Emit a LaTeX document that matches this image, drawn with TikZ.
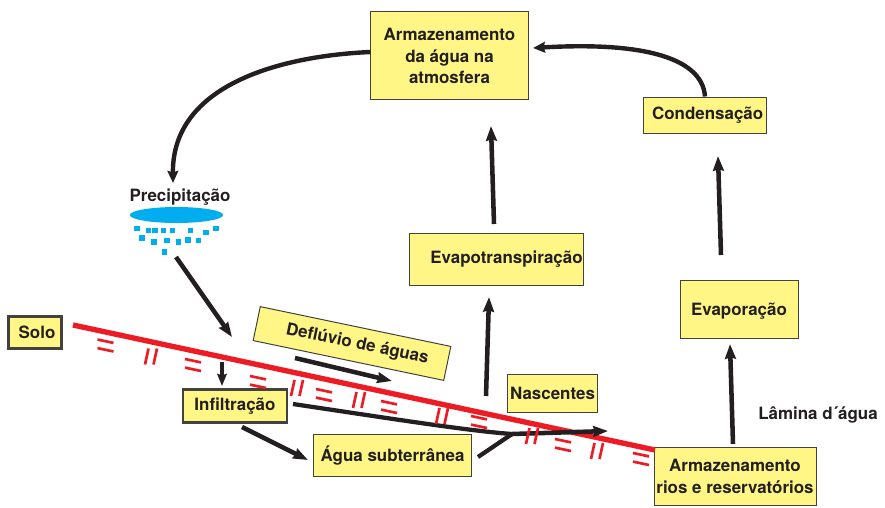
\documentclass[tikz,border=0pt]{standalone}
\usepackage{fontspec}
\setmainfont{TeX Gyre Heros}
\usetikzlibrary{arrows.meta,calc,shapes.geometric}
\definecolor{boxy}{HTML}{FFF685}
\definecolor{ink}{HTML}{231F20}
\definecolor{redl}{HTML}{ED1C24}
\definecolor{cyanb}{HTML}{00AEEF}
\tikzset{
  x=0.75pt,y=-0.75pt,
  txt/.style={font=\bfseries\fontsize{12.7}{16}\selectfont,text=ink,align=center,inner sep=0pt},
  box/.style={txt,draw=ink!85,line width=0.75pt,fill=boxy,inner sep=0pt},
  heavybox/.style={box,line width=2.2pt},
  arr/.style={draw=ink,line width=3.4pt,-{Stealth[length=11pt,width=8pt,inset=1pt]}},
  arrthin/.style={draw=ink,line width=2.6pt,-{Stealth[length=9pt,width=7pt,inset=1pt]}},
  arrhead/.style={draw=ink,line width=3.3pt,-{Stealth[length=9pt,width=8pt,inset=1pt]}},
  seg/.style={draw=redl,line width=2pt},
  soil/.style={draw=redl,line width=4pt},
  drop/.style={fill=cyanb,draw=none},
}
\newcommand{\eqmark}[2]{\draw[seg] (#1-8,#2-6) -- (#1+8,#2-2.6) (#1-8,#2+2.6) -- (#1+8,#2+6);}
\newcommand{\parmark}[2]{\draw[seg] (#1-2.5,#2-8) -- (#1-6,#2+8) (#1+6,#2-8) -- (#1+2.5,#2+8);}
\begin{document}
\begin{tikzpicture}
\useasboundingbox (0,0) rectangle (885,507);
% boxes
\node[box,minimum width=118pt,minimum height=66pt] (atm) at (449.5,55) {\rule{0pt}{11pt}Armazenamento\\da água na\\atmosfera};
\node[box,minimum width=92pt,minimum height=27pt] (cond) at (705,115) {\hspace{4pt}Condensação};
\node[box,minimum width=130pt,minimum height=39pt] (evt) at (496.5,259) {\hspace{15pt}Evapotranspiração};
\node[box,minimum width=88.5pt,minimum height=44pt] (evp) at (739,309.5) {\rule{0pt}{12pt}Evaporação};
\node[box,minimum width=67pt,minimum height=28.5pt] (nasc) at (552.5,393) {Nascentes};
\node[box,minimum width=119pt,minimum height=31pt] (sub) at (392.5,455.5) {Água subterrânea};
\node[heavybox,minimum width=78pt,minimum height=25pt] (inf) at (235,406) {Infiltração};
\node[heavybox,minimum width=40pt,minimum height=24pt] (solo) at (35,332.5) {\hspace{3pt}Solo};
\node[box,minimum width=121.5pt,minimum height=44pt] (rios) at (735,476.5) {Armazenamento\\rios e reservatórios};
\node[box,rotate=-11.8,minimum width=146pt,minimum height=26pt] (defl) at (352,343.5) {\hspace{8pt}Deflúvio de águas};
\node[txt] (prec) at (180,197) {Precipitação};
\node[txt] (lam) at (818,415) {Lâmina d´água};
% rain
\node[drop,ellipse,minimum width=70pt,minimum height=12pt,inner sep=0pt] (cloud) at (176.5,215) {};
\foreach \a/\b in {81/175,115/181,135/181,161/182,187/182,241/181,288/187,318/175,96/204,132/216,171/211,206/216,234/210,266/211,163/246}
  \fill[drop] ($(110,170)+(\a/3-2.7,\b/3-2.7)$) rectangle ++(5.4,5.4);
% soil line
\coordinate (soilA) at (73,325);
\coordinate (soilB) at (655,450);
\draw[soil] (soilA) -- (soilB);
% curved arrows
\coordinate (rainTop) at (173,183);
\draw[arrhead] (atm.west |- 0,52) .. controls (280,56) and (172,85) .. (rainTop);
\coordinate (atmEntry) at (533,48);
\draw[arrhead] (cond.north) .. controls (702,55) and (635,42) .. (atmEntry);
% straight arrows
\coordinate (atmIn) at (491,126);
\coordinate (evtOut) at (494,224);
\draw[arr] (evtOut) -- (atmIn);
\coordinate (condIn) at (718,156);
\coordinate (evpOut) at (721,255);
\draw[arr] (evpOut) -- (condIn);
\coordinate (evpIn) at (730,344);
\coordinate (riosOut) at (733,444);
\draw[arr] (riosOut) -- (evpIn);
\coordinate (upA) at (486,396);
\coordinate (upB) at (489,297);
\draw[arr] (upA) -- (upB);
\coordinate (rainOut) at (176,257);
\coordinate (soilIn) at (232,337);
\draw[arr] (rainOut) -- (soilIn);
\coordinate (infTop) at (222,362);
\coordinate (infIn) at (222,386);
\draw[arrthin] (infTop) -- (infIn);
\coordinate (infLow) at (242,427);
\coordinate (subIn) at (308,460);
\draw[arr] (infLow) -- (subIn);
\coordinate (deflA) at (295,358);
\coordinate (deflB) at (392,381);
\draw[arr] (deflA) -- (deflB);
% groundwater lines
\coordinate (infOut) at (293,404);
\coordinate (joint) at (512,434);
\coordinate (flowEnd) at (608,431);
\coordinate (subOut) at (478,457);
\draw[draw=ink,line width=3.2pt] (infOut) .. controls (400,420) and (470,431) .. (joint);
\draw[draw=ink,line width=3.2pt] (subOut) -- (joint);
\draw[arr] (joint) -- (flowEnd);
% soil marks
\eqmark{105.5}{345.5}
\parmark{151}{356.5}
\eqmark{193}{365}
\eqmark{258}{382}
\parmark{297}{388}
\eqmark{324}{395}
\parmark{359}{400}
\eqmark{389}{407}
\parmark{442}{416}
\eqmark{479}{422}
\parmark{532}{436}
\eqmark{563}{445}
\parmark{597}{451}
\eqmark{641}{459}
\end{tikzpicture}
\end{document}
